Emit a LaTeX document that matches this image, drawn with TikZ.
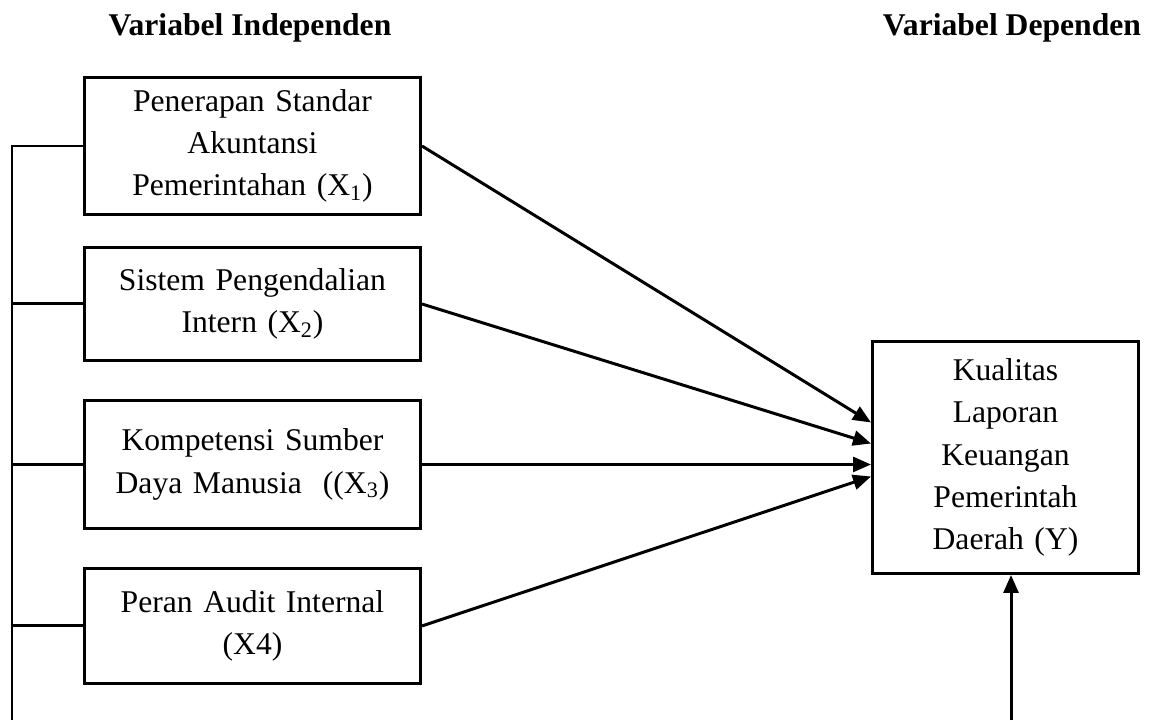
\documentclass[tikz,border=0pt]{standalone}
\usepackage{fontspec}
\setmainfont{Liberation Serif}
\usetikzlibrary{arrows.meta,positioning,calc}
\tikzset{
  varbox/.style={
    rectangle, draw=black, line width=1.7pt,
    text width=6.5cm, minimum width=6.72cm, minimum height=#1,
    inner sep=0pt, align=center, font=\fontsize{18}{24}\selectfont
  },
  depbox/.style={
    rectangle, draw=black, line width=1.7pt,
    text width=5.0cm, minimum width=5.32cm, minimum height=4.64cm,
    inner sep=0pt, align=center, font=\fontsize{18}{24}\selectfont
  },
  hdr/.style={font=\fontsize{18}{24}\selectfont\bfseries},
  link/.style={line width=1.7pt, black},
  arr/.style={-{Triangle[length=0.36cm,width=0.3cm]}, line width=1.7pt, black}
}

\begin{document}
\begin{tikzpicture}
\useasboundingbox (0,0) rectangle (23,-14.4);

% Headers
\node[hdr] (hind) at (5.0,-0.56) {Variabel Independen};
\node[hdr] (hdep) at (20.24,-0.56) {Variabel Dependen};

% Independent variables
\node[varbox=2.74cm, anchor=north west] (sap) at (1.66,-1.52)
  {Penerapan Standar\\Akuntansi\\Pemerintahan (X\textsubscript{1})};
\node[varbox=2.26cm, below=0.6cm of sap] (spi)
  {Sistem Pengendalian\\Intern (X\textsubscript{2})};
\node[varbox=2.56cm, below=0.74cm of spi] (ksdm)
  {Kompetensi Sumber\\Daya Manusia\ \ ((X\textsubscript{3})};
\node[varbox=2.3cm, below=0.74cm of ksdm] (pai)
  {Peran Audit Internal\\(X4)};

% Dependent variable
\node[depbox, anchor=north west] (klkpd) at (17.42,-6.8)
  {Kualitas\\Laporan\\Keuangan\\Pemerintah\\Daerah (Y)\\[0.3cm]};

% Left bus
\coordinate (bus) at (0.24,-14.4);
\coordinate (ybot) at (20.22,-14.4);

% ── Arrows ──────────────────────────────────────────────────────────────
\draw[link] (sap.west) -- (sap.west -| bus) -- (bus);
\draw[link] (spi.west) -- (spi.west -| bus);
\draw[link] (ksdm.west) -- (ksdm.west -| bus);
\draw[link] (pai.west) -- (pai.west -| bus);

\draw[arr] (sap.east) -- ($(klkpd.west)+(0,0.7)$);
\draw[arr] (spi.east) -- ($(klkpd.west)+(0,0.28)$);
\draw[arr] (ksdm.east) -- (ksdm.east -| klkpd.west);
\draw[arr] (pai.east) -- ($(klkpd.west)+(0,-0.38)$);

\draw[arr] (ybot) -- (ybot |- klkpd.south);

\end{tikzpicture}
\end{document}
